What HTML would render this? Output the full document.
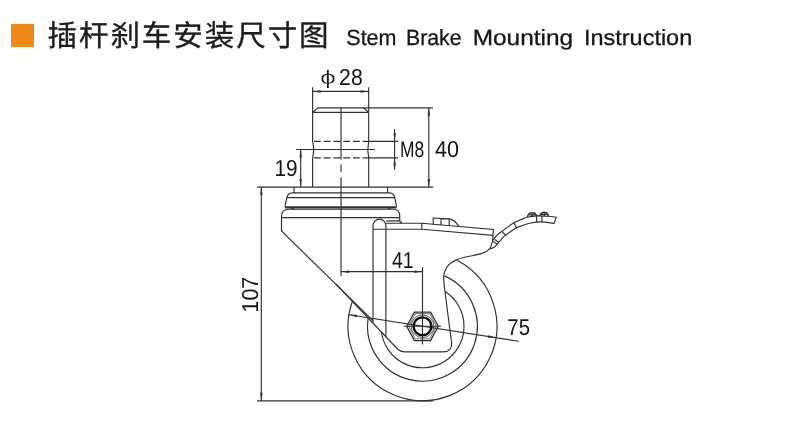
<!DOCTYPE html>
<html lang="zh-CN">
<head>
<meta charset="utf-8">
<title>插杆刹车安装尺寸图 Stem Brake Mounting Instruction</title>
<style>
html,body{margin:0;padding:0;background:#fff;}
body{width:789px;height:433px;overflow:hidden;position:relative;font-family:"Liberation Sans","Noto Sans CJK SC",sans-serif;}
.sq{position:absolute;left:11px;top:23.6px;width:23px;height:23.7px;background:#ef8a19;}
svg{position:absolute;left:0;top:0;will-change:transform;text-rendering:geometricPrecision;}
svg path,svg polygon,svg circle{fill:none;stroke:#303030;stroke-width:1.15;}
svg .ah{fill:#303030;stroke:none;}
svg text{fill:#1c1c1c;font-family:"Liberation Sans","Noto Sans CJK SC",sans-serif;}
svg .d{font-size:23px;fill:#141414;stroke:#141414;stroke-width:0;}
svg .cn{font-size:29.5px;font-weight:400;letter-spacing:1.95px;stroke:#1c1c1c;stroke-width:0.35px;font-family:"Liberation Sans","Noto Sans CJK SC",sans-serif;}
svg .en{font-size:22px;fill:#161616;stroke:#161616;stroke-width:0.3px;}
</style>
</head>
<body>
<div class="sq"></div>
<svg width="789" height="433" viewBox="0 0 789 433">
<text class="cn" x="47.5" y="45.7">插杆刹车安装尺寸图</text>
<text class="en" x="346.3" y="45.1" textLength="50.2" lengthAdjust="spacingAndGlyphs">Stem</text>
<text class="en" x="406" y="45.1" textLength="55.6" lengthAdjust="spacingAndGlyphs">Brake</text>
<text class="en" x="472.7" y="45.1" textLength="100.5" lengthAdjust="spacingAndGlyphs">Mounting</text>
<text class="en" x="584" y="45.1" textLength="108.2" lengthAdjust="spacingAndGlyphs">Instruction</text>
<g>
<path d="M312.6,187 V157.8 Q314.6,149.5 312.6,141.3 V112.3 L318,107.8 H363.5 L368.7,112.3 V141.3 Q366.9,149.5 368.7,157.8 V187 M312.6,112.3 H368.7"/>
<path d="M341,107.8 V159.5 M341,164.5 V172 M341,177.3 V276"/>
<path d="M314,141.3 H368.7 M314,157.8 H368.7" style="stroke-dasharray:6.75 3"/>
<path d="M368.7,141.3 H398 M368.7,157.8 H398"/>
<path d="M312.6,87.3 V112 M368.7,87.3 V112 M312.6,91.4 H368.7"/>
<path class="ah" d="M312.6,91.4 L320.6,90.2 L320.6,92.7 Z"/>
<path class="ah" d="M368.7,91.4 L360.7,92.7 L360.7,90.2 Z"/>
<path d="M363.5,107.8 H433 M428.8,107.8 V187"/>
<path class="ah" d="M428.8,107.8 L430.1,115.8 L427.6,115.8 Z"/>
<path class="ah" d="M428.8,187.0 L427.6,179.0 L430.1,179.0 Z"/>
<path d="M394.6,129.3 V169.8"/>
<path class="ah" d="M394.6,141.3 L393.4,133.3 L395.9,133.3 Z"/>
<path class="ah" d="M394.6,157.8 L395.9,165.8 L393.4,165.8 Z"/>
<path d="M296,149.5 H374.8 M300.7,149.5 V187"/>
<path class="ah" d="M300.7,149.5 L301.9,157.5 L299.4,157.5 Z"/>
<path class="ah" d="M300.7,187.0 L299.4,179.0 L301.9,179.0 Z"/>
<path d="M257,187.1 H433 M261.3,187.1 V400.8 M257,400.8 H433"/>
<path class="ah" d="M261.3,187.1 L262.6,195.1 L260.1,195.1 Z"/>
<path class="ah" d="M261.3,400.8 L260.1,392.8 L262.6,392.8 Z"/>
<path d="M341,271.6 H422.5 M422.5,267.3 V344.6 M403.8,326.2 H441.2"/>
<path class="ah" d="M341.0,271.6 L349.0,270.4 L349.0,272.9 Z"/>
<path class="ah" d="M422.5,271.6 L414.5,272.9 L414.5,270.4 Z"/>
<path d="M349.0,314.8 L518.8,341.3"/>
<path class="ah" d="M349.0,314.8 L357.1,314.8 L356.7,317.3 Z"/>
<path class="ah" d="M496.0,337.7 L487.9,337.7 L488.3,335.2 Z"/>
<path d="M294,187.1 V192.9 M387.6,187.1 V192.9"/>
<path d="M284.9,206.6 L286.6,198.6 Q287.4,192.9 292.5,192.9 H389.3 Q394.2,192.9 395,198.6 L396.6,206.6 M286.9,197.6 H394.6"/>
<path d="M284.9,207.3 H396.6" style="stroke-width:2.2"/>
<path d="M291,208 L294,209.2 M390.6,208 L387.8,209.2"/>
<path d="M373,320.6 L281.5,231 V216.6 Q281.3,209.2 289.3,209.2 H392.8 Q399.7,209.2 399.7,215.5 V220 Q399.7,222.6 402,222.6 M281.3,217.6 H399.7"/>
<path d="M336,284 L397,348.5"/>
<path d="M373,323.1 V225.6 A6.45,6.45 0 0 1 385.9,225.6 V336.7 M397,348.5 Q400.5,351.9 405.5,351.9 H442.5 Q452.3,351.9 451.6,342.5 L448.9,322"/>
<path d="M448.9,322.0 C448.3,317.4 446.2,301.6 445.4,294.7 C444.5,287.8 444.0,284.5 443.8,280.8 C443.6,277.1 443.5,275.4 444.3,272.7 C445.1,270.0 446.8,266.8 448.9,264.6 C451.0,262.4 453.0,261.1 457.0,259.6 C461.0,258.1 469.2,256.4 473.1,255.5 C477.0,254.6 478.6,254.5 480.6,253.9 C482.6,253.3 483.7,252.8 485.2,252.0 C486.7,251.2 488.4,249.9 489.4,248.8 C490.4,247.7 490.7,247.0 491.2,245.6 C491.7,244.2 492.3,242.2 492.6,240.5 C492.9,238.8 492.8,236.2 492.9,235.4"/>
<path d="M386.3,220.9 H399.7 M385.9,223.2 H421.8 L493.4,229.4 L492.9,235.4 L421.8,229.2 H373 M421.8,223.4 V229.2"/>
<path d="M433.2,224.4 V218 L449.3,218.9 Q454.6,219.6 458.8,226.5 M441,218.4 V225 M449.2,218.9 V225.7"/>
<path d="M457.5,260.6 A74.4,74.4 0 1 1 352.4,301.3"/>
<path d="M444.3,275.9 A54.9,54.9 0 1 1 368.2,318.0"/>
<path d="M445.6,291.8 A41.5,41.5 0 1 1 381.4,332.0"/>
<polygon points="406.7,326.25 414.4,312.1 430.6,312.1 438.3,326.25 430.6,340.6 414.4,340.6" style="stroke-width:1.3"/>
<polygon points="408.6,326.25 415.3,313.6 429.7,313.6 436.4,326.25 429.7,338.9 415.3,338.9" style="stroke-width:0.7"/>
<circle cx="422.5" cy="326.25" r="11.3" style="stroke-width:0.8"/>
<circle cx="422.5" cy="326.25" r="8.9" style="stroke-width:2.4;stroke:#111"/>
<path d="M492.7,240.3 C493.5,239.4 495.6,236.5 497.3,234.9 C499.0,233.3 501.0,232.2 502.8,230.8 C504.6,229.4 506.5,227.9 508.3,226.6 C510.1,225.3 511.9,223.9 513.9,222.8 C515.9,221.7 518.3,220.7 520.5,219.8 C522.7,218.9 524.4,218.0 527.1,217.3 C529.8,216.7 533.6,216.1 536.8,215.9 C540.0,215.7 543.3,216.1 546.5,216.3 C549.7,216.5 554.6,217.1 556.2,217.3 L554.1,223.5 M489.5,249.2 C490.3,248.8 492.9,248.2 494.5,247.0 C496.1,245.8 497.4,243.8 499.1,241.9 C500.8,240.1 502.7,237.7 504.7,235.9 C506.7,234.1 509.1,232.6 511.1,231.2 C513.1,229.8 515.1,228.6 516.7,227.7 C518.4,226.8 518.8,226.7 521.0,226.0 C523.2,225.3 526.5,224.0 529.8,223.3 C533.1,222.6 536.8,221.9 540.9,221.9 C545.0,221.9 551.9,223.2 554.1,223.5"/>
<path d="M494.5,239.6 L498.9,242.3 M493.1,241.4 L497.7,244.2 M501.4,231.2 L506,235.4 M513.9,222.8 L516.7,228.1 M536.6,216 L536.7,222.2 M541.9,215.9 L542,221.9"/>
<path style="stroke-width:1.5" d="M527.2,217.2 Q527.9,214.4 529.8,213 H534.4 Q536,214 537,216.3 M539.8,216 Q540.6,213.6 542.2,212.6 H546.3 Q547.9,213.6 548.5,216.2"/>
<path d="M529,214.9 H535.4 M532.2,213 V216.8 M541.2,214.4 H547.4 M544.3,212.6 V216"/>
</g>
<text class="d" style="stroke:#fff;stroke-width:0.4px" transform="translate(320,83.9) scale(1.24,0.86)">ϕ</text>
<text class="d" x="339.1" y="85.3" textLength="23.6" lengthAdjust="spacingAndGlyphs">28</text>
<text class="d" style="font-size:22.4px;stroke-width:0" x="399.9" y="157" textLength="24.2" lengthAdjust="spacingAndGlyphs">M8</text>
<text class="d" x="435" y="157" textLength="24" lengthAdjust="spacingAndGlyphs">40</text>
<text class="d" x="274.4" y="176" textLength="23.2" lengthAdjust="spacingAndGlyphs">19</text>
<text class="d" x="392" y="267.8" textLength="21.6" lengthAdjust="spacingAndGlyphs">41</text>
<text class="d" x="507.3" y="335.1" textLength="22.7" lengthAdjust="spacingAndGlyphs">75</text>
<text class="d" transform="translate(257.9,312.4) rotate(-90)" textLength="35.6" lengthAdjust="spacingAndGlyphs">107</text>
</svg>
</body>
</html>
